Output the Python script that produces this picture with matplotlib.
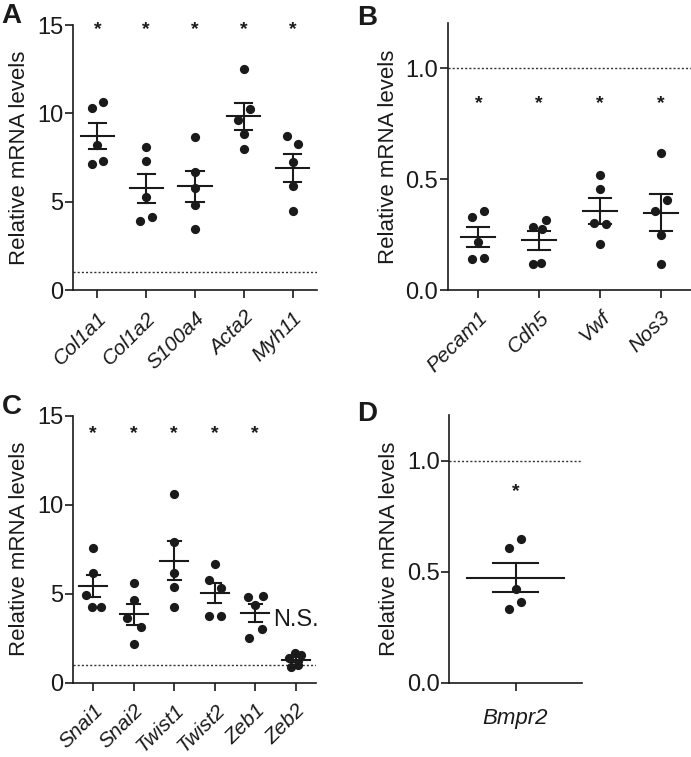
import matplotlib.pyplot as plt
import numpy as np

plt.rcParams['font.family'] = ['Liberation Sans', 'DejaVu Sans']

# panel A
genes_a = ["Col1a1", "Col1a2", "S100a4", "Acta2", "Myh11"]
vals_a = [[10.28, 10.62, 8.21, 7.11, 7.28],
          [8.11, 7.28, 5.28, 3.91, 4.15],
          [8.64, 6.70, 5.75, 4.81, 3.47],
          [12.51, 10.25, 9.62, 8.81, 7.98],
          [8.74, 8.26, 7.23, 5.89, 4.45]]
# panel B
genes_b = ["Pecam1", "Cdh5", "Vwf", "Nos3"]
vals_b = [[0.328, 0.358, 0.215, 0.141, 0.146],
          [0.286, 0.277, 0.316, 0.117, 0.123],
          [0.519, 0.457, 0.304, 0.298, 0.206],
          [0.617, 0.406, 0.358, 0.247, 0.116]]
# panel C
genes_c = ["Snai1", "Snai2", "Twist1", "Twist2", "Zeb1", "Zeb2"]
vals_c = [[7.55, 6.14, 4.91, 4.27, 4.27],
          [5.60, 4.64, 3.65, 3.15, 2.17],
          [10.60, 7.92, 6.18, 5.36, 4.23],
          [6.69, 5.75, 5.30, 3.75, 3.75],
          [4.83, 4.87, 4.37, 3.00, 2.53],
          [1.37, 1.69, 1.56, 0.90, 0.99]]
sig_c = ["*", "*", "*", "*", "*", "N.S."]
# panel D
genes_d = ["Bmpr2"]
vals_d = [[0.608, 0.649, 0.420, 0.362, 0.330]]

# horizontal jitter of the dots (layout only)
jit_a = [[-0.12, 0.12, 0, -0.12, 0.12], [0, 0, 0, -0.12, 0.12], [0, 0, 0, 0, 0],
         [0, 0.12, -0.12, 0, 0], [-0.12, 0.12, 0, 0, 0]]
jit_b = [[-0.1, 0.1, 0, -0.1, 0.1], [-0.1, 0.05, 0.12, -0.1, 0.03],
         [0, 0, -0.1, 0.1, 0], [0, 0.1, -0.1, 0, 0]]
jit_c = [[0, 0, -0.18, -0.02, 0.2], [0, 0, -0.17, 0.17, 0], [0, 0, 0, 0, 0],
         [0, -0.15, 0.15, -0.15, 0.15], [-0.19, 0.18, 0, 0.16, -0.15],
         [-0.17, -0.02, 0.12, -0.12, 0.06]]
jit_d = [[-0.05, 0.045, 0, 0.045, -0.05]]

col = "#1a1a1a"
fig = plt.figure(figsize=(6.91, 7.57), dpi=100)


def panel(rect, genes, vals, jit, ylim, yticks, fmt, sig, sig_y, mw, cw, rot=True):
    ax = fig.add_axes(rect)
    n = len(genes)
    ax.set_xlim(-0.5, n - 0.5)
    ax.set_ylim(*ylim)
    ax.axhline(1.0, color="#333333", lw=1.0, ls=(0, (1.5, 1.5)), zorder=1)
    for i, v in enumerate(vals):
        v = np.array(v)
        m = v.mean()
        se = v.std(ddof=1) / np.sqrt(len(v))
        ax.scatter(i + np.array(jit[i]), v, s=44, color=col, zorder=3, linewidths=0)
        ax.plot([i - mw, i + mw], [m, m], color=col, lw=1.5, zorder=4)
        ax.plot([i - cw, i + cw], [m + se, m + se], color=col, lw=1.5, zorder=4)
        ax.plot([i - cw, i + cw], [m - se, m - se], color=col, lw=1.5, zorder=4)
        ax.plot([i, i], [m - se, m + se], color=col, lw=1.5, zorder=4)
    for i, s in enumerate(sig):
        if s == "*":
            ax.text(i, sig_y, "*", ha="center", va="center", fontsize=14,
                    fontweight="bold", color=col)
    ax.spines[["top", "right"]].set_visible(False)
    for sp in ["left", "bottom"]:
        ax.spines[sp].set_linewidth(1.2)
        ax.spines[sp].set_color(col)
    ax.set_yticks(yticks)
    ax.set_yticklabels([fmt.format(t) for t in yticks])
    ax.tick_params(axis="y", labelsize=17, width=1.2, length=6, colors=col, pad=1)
    ax.tick_params(axis="x", width=1.2, length=6, colors=col)
    ax.set_xticks(range(n))
    if rot:
        ax.set_xticklabels(genes, rotation=45, ha="right", rotation_mode="anchor",
                           fontsize=15, style="italic")
        ax.tick_params(axis="x", pad=7)
    else:
        ax.set_xticklabels(genes, fontsize=16, style="italic")
        ax.tick_params(axis="x", pad=12)
    ax.set_ylabel("Relative mRNA levels", fontsize=16, color=col, labelpad=5)
    return ax


W, H = 691, 757


def rect(l, r, t, b):
    return [l / W, 1 - b / H, (r - l) / W, (b - t) / H]


panel(rect(73, 317, 25, 290), genes_a, vals_a, jit_a, (0, 15), [0, 5, 10, 15], "{:.0f}",
      ["*"] * 5, 14.75, 0.34, 0.175)
axb = panel(rect(448, 691, 22.7, 290), genes_b, vals_b, jit_b, (0, 1.206), [0.0, 0.5, 1.0],
            "{:.1f}", ["*"] * 4, 0.84, 0.28, 0.18)
axc = panel(rect(73, 316, 415.7, 682.7), genes_c, vals_c, jit_c, (0, 15), [0, 5, 10, 15],
            "{:.0f}", sig_c, 14.0, 0.34, 0.16)
axc.text(5, 3.5, "N.S.", ha="center", va="center", fontsize=17, color=col)
panel(rect(449.3, 581.7, 415, 682.7), genes_d, vals_d, jit_d, (0, 1.206), [0.0, 0.5, 1.0],
      "{:.1f}", ["*"], 0.86, 0.37, 0.17, rot=False)

for lbl, x, y in [("A", 1, 3), ("B", 357, 5), ("C", 2, 394), ("D", 357, 401)]:
    fig.text(x / W, 1 - y / H, lbl, fontsize=20, fontweight="bold", ha="left", va="top",
             color=col)

fig.savefig("out.png", dpi=100)
